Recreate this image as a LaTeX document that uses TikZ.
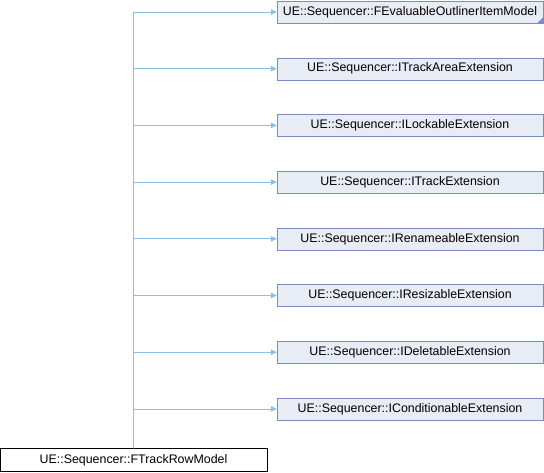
\documentclass[tikz,border=0pt]{standalone}
\usepackage{fontspec}
\setmainfont{Liberation Sans}
\usepackage{xcolor}
\usepackage{tikz}
\usetikzlibrary{shapes,arrows.meta,positioning}
\definecolor{basefill}{RGB}{232,236,245}
\definecolor{baseborder}{RGB}{122,142,196}
\definecolor{edgeblue}{RGB}{136,192,230}

\begin{document}
\begin{tikzpicture}[
    x=1pt, y=-1pt,
    node distance=34.3pt,
    base/.style={rectangle, draw=baseborder, fill=basefill, minimum width=266pt, minimum height=22pt, inner sep=0pt, font=\fontsize{12.4}{14}\selectfont},
    derived/.style={rectangle, draw=black, fill=white, minimum width=267pt, minimum height=23pt, inner sep=0pt, font=\fontsize{12.4}{14}\selectfont},
    edge/.style={draw=edgeblue, line width=0.8pt, -{Triangle[length=6pt,width=5.5pt]}}
]
\useasboundingbox (0,0) rectangle (544,472);

% Base classes
\node[base] (outliner) at (410,12) {UE::Sequencer::FEvaluableOutlinerItemModel};
\node[base, below=of outliner] (trackarea) {UE::Sequencer::ITrackAreaExtension};
\node[base, below=of trackarea] (lockable) {UE::Sequencer::ILockableExtension};
\node[base, below=of lockable] (track) {UE::Sequencer::ITrackExtension};
\node[base, below=of track] (renameable) {UE::Sequencer::IRenameableExtension};
\node[base, below=of renameable] (resizable) {UE::Sequencer::IResizableExtension};
\node[base, below=of resizable] (deletable) {UE::Sequencer::IDeletableExtension};
\node[base, below=of deletable] (conditionable) {UE::Sequencer::IConditionableExtension};

% folded corner
\fill[baseborder] (outliner.south east) -- ++(-6,0) -- ++(6,-6) -- cycle;

% Derived class
\node[derived] (rowmodel) at (133.5,460) {UE::Sequencer::FTrackRowModel};

% Inheritance
\draw[edge] (rowmodel.north) |- (outliner.west);
\draw[edge] (rowmodel.north) |- (trackarea.west);
\draw[edge] (rowmodel.north) |- (lockable.west);
\draw[edge] (rowmodel.north) |- (track.west);
\draw[edge] (rowmodel.north) |- (renameable.west);
\draw[edge] (rowmodel.north) |- (resizable.west);
\draw[edge] (rowmodel.north) |- (deletable.west);
\draw[edge] (rowmodel.north) |- (conditionable.west);

\end{tikzpicture}
\end{document}
